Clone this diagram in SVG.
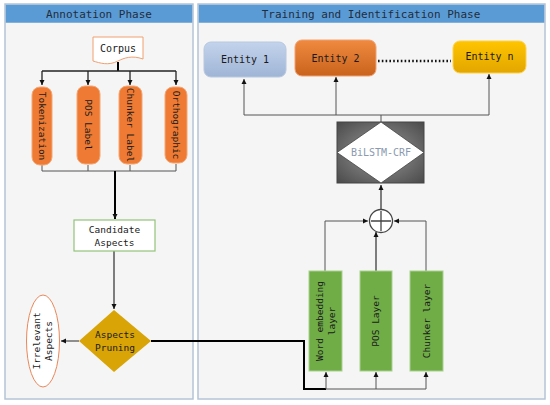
<svg xmlns="http://www.w3.org/2000/svg" width="550" height="405" viewBox="0 0 550 405">
<defs>
<style>
.panel{fill:#f5f5f5;stroke:#b4c4d6;stroke-width:1.5}
.head{fill:#5b9bd5}
.ht{font-family:"DejaVu Sans Mono","Liberation Mono",monospace;font-size:11px;fill:#1f2d3d;text-anchor:middle}
.t{font-family:"DejaVu Sans Mono","Liberation Mono",monospace;font-size:9.5px;fill:#1a1a1a;text-anchor:middle}
.orange{fill:#ee7a33;stroke:#f4a774;stroke-width:1}
.green{fill:#70ad47;stroke:#a9d08e;stroke-width:1}
.ln{fill:none;stroke:#222;stroke-width:1.3}
.lg{fill:none;stroke:#555;stroke-width:1}
.lk{fill:none;stroke:#000;stroke-width:2}
</style>
<marker id="ah" markerWidth="6" markerHeight="6" refX="5" refY="3" orient="auto" markerUnits="userSpaceOnUse">
<path d="M0,0.5 L5,3 L0,5.5 Z" fill="#111"/>
</marker>
<linearGradient id="gE1" x1="0" y1="0" x2="0" y2="1"><stop offset="0" stop-color="#c3d3ec"/><stop offset="1" stop-color="#9fb5d6"/></linearGradient>
<linearGradient id="gE2" x1="0" y1="0" x2="0" y2="1"><stop offset="0" stop-color="#f08a40"/><stop offset="1" stop-color="#c9621c"/></linearGradient>
<linearGradient id="gEn" x1="0" y1="0" x2="0" y2="1"><stop offset="0" stop-color="#ffc400"/><stop offset="1" stop-color="#e2a600"/></linearGradient>
<radialGradient id="gB" cx="0.5" cy="0.5" r="0.7"><stop offset="0" stop-color="#9a9a9a"/><stop offset="1" stop-color="#4a4a4a"/></radialGradient>
</defs>

<g id="panel-annotation">
<rect class="panel" x="5" y="4" width="188" height="395"/>
<rect class="head" x="5.75" y="4.75" width="186.5" height="18"/>
<text class="ht" x="99" y="17.5">Annotation Phase</text>
</g>
<g id="panel-training">
<rect class="panel" x="198" y="4" width="347" height="395"/>
<rect class="head" x="198.75" y="4.75" width="345.5" height="18"/>
<text class="ht" x="371" y="17.5">Training and Identification Phase</text>
</g>

<g id="connectors">
<path class="lk" d="M118,62 V71"/>
<path class="ln" d="M42,71 H176"/>
<path class="ln" d="M42,71 V85" marker-end="url(#ah)"/>
<path class="ln" d="M88,71 V85" marker-end="url(#ah)"/>
<path class="ln" d="M130,71 V85" marker-end="url(#ah)"/>
<path class="ln" d="M176,71 V85" marker-end="url(#ah)"/>
<path class="lg" d="M42,165 V171 H176 V164 M88,165 V171 M130,165 V171"/>
<path class="lk" d="M115,171 V219" marker-end="url(#ah)"/>
<path class="lg" d="M114,251 V309" marker-end="url(#ah)" style="stroke-width:1.5"/>
<path class="lg" d="M79,341 H61" marker-end="url(#ah)" style="stroke-width:1.3"/>
<path class="lk" d="M151,341 H304 V389 H326"/>
<path class="lg" d="M326,389 H426"/>
<path class="lg" d="M326,389 V372" marker-end="url(#ah)"/>
<path class="lg" d="M376,389 V372" marker-end="url(#ah)"/>
<path class="lg" d="M426,389 V372" marker-end="url(#ah)"/>
<path class="lg" d="M325,271 V221 H368" marker-end="url(#ah)"/>
<path class="lg" d="M426,271 V221 H394" marker-end="url(#ah)"/>
<path class="lg" d="M376,271 V232" marker-end="url(#ah)" style="stroke-width:1.5"/>
<path class="lg" d="M381,209 V185" marker-end="url(#ah)" style="stroke-width:1.5"/>
<path class="lg" d="M381,122 V115 M244,115 H489"/>
<path class="lg" d="M244,115 V79" marker-end="url(#ah)"/>
<path class="lg" d="M336,115 V77" marker-end="url(#ah)"/>
<path class="lg" d="M489,115 V74" marker-end="url(#ah)"/>
<path d="M378,61 H451" stroke="#111" stroke-width="2.4" stroke-dasharray="1.6,2.2" fill="none"/>
</g>

<g id="corpus">
<path d="M93,37 H143 V59 C132,55 124,58 118,61 C108,66 100,63 93,61 Z" fill="#fff" stroke="#f0a070" stroke-width="1"/>
<text class="t" x="118" y="52" style="font-size:10px">Corpus</text>
</g>
<g id="tokenization">
<rect class="orange" x="32" y="87" width="20" height="78" rx="8"/>
<text class="t" transform="translate(42,126) rotate(90)" y="3.3">Tokenization</text>
</g>
<g id="pos-label">
<rect class="orange" x="77" y="86" width="23" height="78" rx="8"/>
<text class="t" transform="translate(88.5,125) rotate(90)" y="3.3">POS Label</text>
</g>
<g id="chunker-label">
<rect class="orange" x="119" y="86" width="23" height="78" rx="8"/>
<text class="t" transform="translate(130.5,125) rotate(90)" y="3.3">Chunker Label</text>
</g>
<g id="orthographic">
<rect class="orange" x="165" y="87" width="22" height="76" rx="8"/>
<text class="t" transform="translate(176,125) rotate(90)" y="3.3">Orthographic</text>
</g>
<g id="candidate-aspects">
<rect x="74" y="220" width="81" height="31" fill="#fff" stroke="#92c47a" stroke-width="1.2"/>
<text class="t" x="114.5" y="233">Candidate</text>
<text class="t" x="114.5" y="246">Aspects</text>
</g>
<g id="aspects-pruning">
<path d="M114,310 L151,341 L114,372 L79,341 Z" fill="#d9a406"/>
<text class="t" x="115" y="338">Aspects</text>
<text class="t" x="115" y="351">Pruning</text>
</g>
<g id="irrelevant-aspects">
<ellipse cx="43" cy="341" rx="16.5" ry="46" fill="#fff" stroke="#e8885a" stroke-width="1"/>
<text class="t" transform="translate(43,341) rotate(-90)" y="-3">Irrelevant</text>
<text class="t" transform="translate(43,341) rotate(-90)" y="9">Aspects</text>
</g>

<g id="entity-1">
<rect x="204" y="42" width="82" height="35" rx="7" fill="url(#gE1)" stroke="#b8c8e0" stroke-width="1"/>
<text class="t" x="245" y="63" style="font-size:10px">Entity 1</text>
</g>
<g id="entity-2">
<rect x="295" y="40" width="81" height="36" rx="7" fill="url(#gE2)" stroke="#f2a070" stroke-width="1"/>
<text class="t" x="335.5" y="61.5" style="font-size:10px">Entity 2</text>
</g>
<g id="entity-n">
<rect x="453" y="41" width="73" height="32" rx="7" fill="url(#gEn)" stroke="#ffd24a" stroke-width="1"/>
<text class="t" x="489.5" y="60" style="font-size:10px">Entity n</text>
</g>
<g id="bilstm-crf">
<rect x="337" y="122" width="87" height="61" fill="url(#gB)" stroke="#444" stroke-width="1"/>
<path d="M381,122 L424,152.5 L381,183 L337,152.5 Z" fill="#fff" stroke="#444" stroke-width="0.8"/>
<text class="t" x="381" y="156" style="font-size:10px;fill:#8a9ab0">BiLSTM-CRF</text>
</g>
<g id="sum">
<circle cx="381" cy="221" r="11.5" fill="#fff" stroke="#444" stroke-width="1.3"/>
<path d="M371,221 H391 M381,211 V231" stroke="#444" stroke-width="1.3"/>
</g>
<g id="word-embedding-layer">
<rect class="green" x="309" y="271" width="33" height="100"/>
<text class="t" transform="translate(325.5,321) rotate(-90)" y="-2.5">Word embedding</text>
<text class="t" transform="translate(325.5,321) rotate(-90)" y="9.5">layer</text>
</g>
<g id="pos-layer">
<rect class="green" x="360" y="271" width="32" height="100"/>
<text class="t" transform="translate(376,321) rotate(-90)" y="3.3">POS Layer</text>
</g>
<g id="chunker-layer">
<rect class="green" x="410" y="271" width="33" height="100"/>
<text class="t" transform="translate(426.5,321) rotate(-90)" y="3.3">Chunker layer</text>
</g>
</svg>
